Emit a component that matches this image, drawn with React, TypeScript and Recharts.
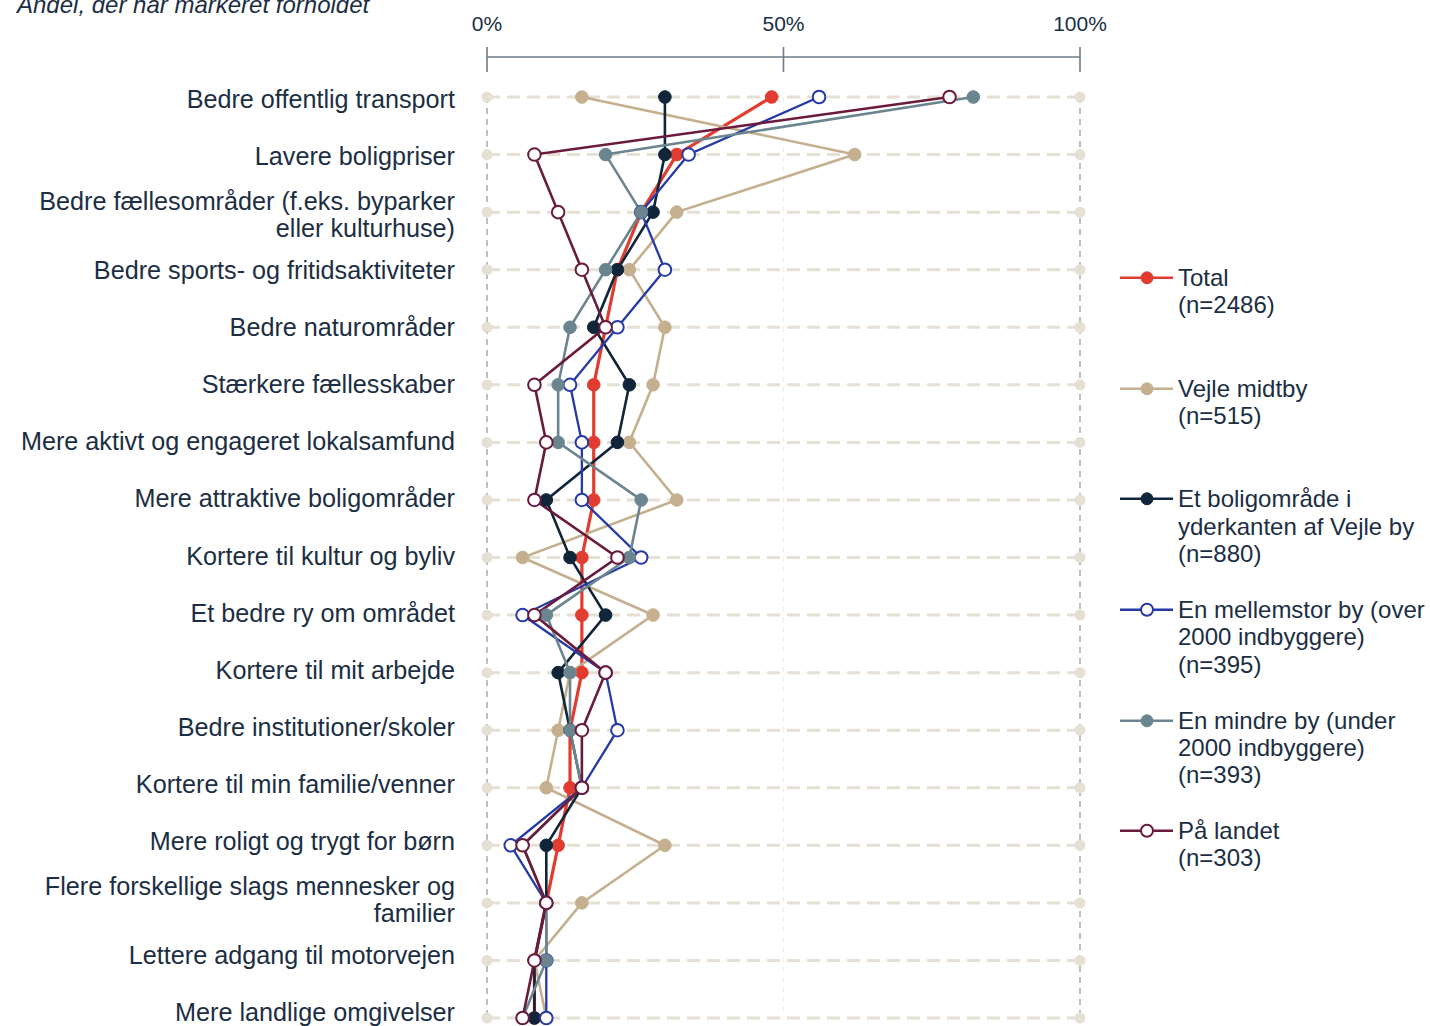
import { LineChart, Line, XAxis, YAxis, ReferenceLine, ReferenceDot, Legend } from 'recharts';

const categories = [
  'Bedre offentlig transport',
  'Lavere boligpriser',
  'Bedre fællesområder (f.eks. byparker eller kulturhuse)',
  'Bedre sports- og fritidsaktiviteter',
  'Bedre naturområder',
  'Stærkere fællesskaber',
  'Mere aktivt og engageret lokalsamfund',
  'Mere attraktive boligområder',
  'Kortere til kultur og byliv',
  'Et bedre ry om området',
  'Kortere til mit arbejde',
  'Bedre institutioner/skoler',
  'Kortere til min familie/venner',
  'Mere roligt og trygt for børn',
  'Flere forskellige slags mennesker og familier',
  'Lettere adgang til motorvejen',
  'Mere landlige omgivelser',
];

// andel i procent, læst af figuren
const total = [48, 32, 26, 22, 20, 18, 18, 18, 16, 16, 16, 14, 14, 12, 10, 8, 8];
const vejleMidtby = [16, 62, 32, 24, 30, 28, 24, 32, 6, 28, 14, 12, 10, 30, 16, 8, 10];
const yderkanten = [30, 30, 28, 22, 18, 24, 22, 10, 14, 20, 12, 14, 16, 10, 10, 8, 8];
const mellemstorBy = [56, 34, 26, 30, 22, 14, 16, 16, 26, 6, 20, 22, 16, 4, 10, 10, 10];
const mindreBy = [82, 20, 26, 20, 14, 12, 12, 26, 24, 10, 14, 14, 16, 6, 10, 10, 6];
const paaLandet = [78, 8, 12, 16, 20, 8, 10, 8, 22, 8, 20, 16, 16, 6, 10, 8, 6];

const xTicks = [0, 50, 100];

const TEXT = '#1b2e43';
const AXIS = '#6d7c88';
const GRID = '#e6dfd3';
const FONT = '"Liberation Sans", Arial, sans-serif';
const LABEL_SIZE = 25.2;

const series = [
  { key: 'total', name: 'Total', n: '(n=2486)', values: total, color: '#e23b2f', hollow: false, width: 3.2 },
  { key: 'vejle', name: 'Vejle midtby', n: '(n=515)', values: vejleMidtby, color: '#c4b08e', hollow: false, width: 2.6 },
  { key: 'yderkant', name: 'Et boligområde i yderkanten af Vejle by', n: '(n=880)', values: yderkanten, color: '#10253a', hollow: false, width: 2.6 },
  { key: 'mellemstor', name: 'En mellemstor by (over 2000 indbyggere)', n: '(n=395)', values: mellemstorBy, color: '#2539a7', hollow: true, width: 2.3 },
  { key: 'mindre', name: 'En mindre by (under 2000 indbyggere)', n: '(n=393)', values: mindreBy, color: '#6b8590', hollow: false, width: 2.6 },
  { key: 'landet', name: 'På landet', n: '(n=303)', values: paaLandet, color: '#6a1a3b', hollow: true, width: 2.6 },
];

const rows = categories.map((name, i) => {
  const row: Record<string, string | number> = { name };
  series.forEach((s) => {
    row[s.key] = s.values[i];
  });
  return row;
});

let ctx: CanvasRenderingContext2D | null = null;
function textWidth(t: string) {
  if (!ctx) ctx = document.createElement('canvas').getContext('2d');
  if (!ctx) return t.length * LABEL_SIZE * 0.5;
  ctx.font = `${LABEL_SIZE}px "Liberation Sans"`;
  return ctx.measureText(t).width;
}

function wrapLabel(label: string, maxW: number) {
  const words = label.split(' ');
  const lines: string[] = [];
  let cur = '';
  words.forEach((w) => {
    const next = cur ? cur + ' ' + w : w;
    if (cur && textWidth(next) > maxW) {
      lines.push(cur);
      cur = w;
    } else {
      cur = next;
    }
  });
  if (cur) lines.push(cur);
  return lines;
}

const PercentTick = (props: any) => {
  const { x, y, payload } = props;
  return (
    <g>
      <line x1={x} x2={x} y1={y - 10} y2={y + 15} stroke={AXIS} strokeWidth={1.6} />
      <text x={x} y={y - 26} textAnchor="middle" fontSize={21} fill={TEXT} fontFamily={FONT}>
        {payload.value}%
      </text>
    </g>
  );
};

const CategoryTick = (props: any) => {
  const { x, y, payload, index } = props;
  const idx = typeof index === 'number' ? index : categories.indexOf(String(payload.value));
  const lines = wrapLabel(String(payload.value), 445);
  // labels in the original sit slightly tighter than the rows
  const firstBaseline = y + 11 - idx * 0.5 - (lines.length - 1) * 12;
  return (
    <text x={x} y={firstBaseline} textAnchor="end" fontSize={LABEL_SIZE} fontFamily={FONT} fill={TEXT}>
      {lines.map((l, i) => (
        <tspan key={i} x={x} dy={i === 0 ? 0 : 27}>
          {l}
        </tspan>
      ))}
    </text>
  );
};

function LegendBlock() {
  return (
    <div style={{ position: 'relative', fontFamily: FONT, color: TEXT }}>
      {series.map((s, i) => (
        <div key={s.key} style={{ position: 'absolute', left: 0, top: 278 + i * 110.6 - 13.8 }}>
          <svg width={56} height={28} style={{ position: 'absolute', left: 2, top: 0 }}>
            <line x1={0} x2={53} y1={13.8} y2={13.8} stroke={s.color} strokeWidth={2.6} />
            <circle cx={27} cy={13.8} r={6} fill={s.hollow ? '#fff' : s.color} stroke={s.color} strokeWidth={s.hollow ? 2 : 1} />
          </svg>
          <div style={{ position: 'absolute', left: 60, top: 0, width: 252, fontSize: 24, lineHeight: '27.3px' }}>
            {s.name}
            <br />
            {s.n}
          </div>
        </div>
      ))}
    </div>
  );
}

export default function App() {
  const first = categories[0];
  const last = categories[categories.length - 1];
  return (
    <div style={{ position: 'absolute', left: 0, top: 0, width: 1430, height: 1026, overflow: 'hidden', background: '#fff' }}>
      <div
        style={{
          position: 'absolute',
          left: 17,
          top: -7,
          fontFamily: FONT,
          fontStyle: 'italic',
          fontSize: 24,
          lineHeight: '24px',
          color: TEXT,
          whiteSpace: 'nowrap',
        }}
      >
        Andel, der har markeret forholdet
      </div>
      <LineChart layout="vertical" width={1430} height={1050} data={rows} margin={{ top: 0, right: 350, bottom: 0, left: 0 }}>
        <XAxis
          type="number"
          orientation="top"
          domain={[0, 100]}
          ticks={xTicks}
          height={57}
          tickSize={0}
          tickMargin={0}
          tickLine={false}
          axisLine={{ stroke: AXIS, strokeWidth: 1.6 }}
          tick={<PercentTick />}
        />
        <YAxis
          type="category"
          dataKey="name"
          scale="point"
          width={487}
          interval={0}
          tickSize={0}
          tickMargin={32}
          tickLine={false}
          axisLine={false}
          padding={{ top: 40, bottom: 32 }}
          tick={<CategoryTick />}
        />
        {categories.map((c) => (
          <ReferenceLine key={'h' + c} y={c} stroke={GRID} strokeWidth={3} strokeDasharray="13 7" zIndex={-50} />
        ))}
        <ReferenceLine
          segment={[{ x: 0, y: first }, { x: 0, y: last }]}
          stroke="#a3a3a3"
          strokeWidth={1.4}
          strokeDasharray="6 5"
          zIndex={-50}
        />
        <ReferenceLine
          segment={[{ x: 50, y: first }, { x: 50, y: last }]}
          stroke="#eeeeee"
          strokeWidth={1.2}
          strokeDasharray="5 5"
          zIndex={-50}
        />
        <ReferenceLine
          segment={[{ x: 100, y: first }, { x: 100, y: last }]}
          stroke="#a3a3a3"
          strokeWidth={1.4}
          strokeDasharray="6 5"
          zIndex={-50}
        />
        {categories.map((c) => (
          <ReferenceDot key={'a' + c} x={0} y={c} r={5.5} fill={GRID} stroke="none" zIndex={-40} />
        ))}
        {categories.map((c) => (
          <ReferenceDot key={'b' + c} x={100} y={c} r={5.5} fill={GRID} stroke="none" zIndex={-40} />
        ))}
        {series.map((s) => (
          <Line
            key={s.key}
            dataKey={s.key}
            name={s.name}
            stroke={s.color}
            strokeWidth={s.width}
            dot={{ r: 6.3, fill: s.hollow ? '#fff' : s.color, stroke: s.color, strokeWidth: s.hollow ? 2 : 1 }}
            activeDot={false}
            isAnimationActive={false}
          />
        ))}
        <Legend
          layout="vertical"
          align="center"
          verticalAlign="middle"
          wrapperStyle={{ left: 1118, top: 0, width: 312, height: 1026 }}
          content={() => <LegendBlock />}
        />
      </LineChart>
    </div>
  );
}
